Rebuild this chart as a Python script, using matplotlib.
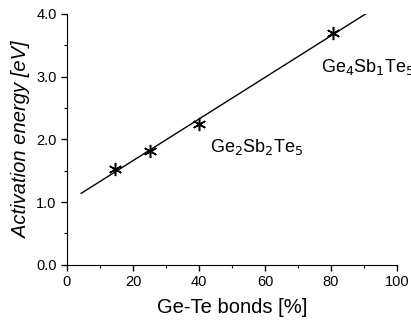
import matplotlib.pyplot as plt
import numpy as np
from matplotlib.ticker import MultipleLocator

plt.rcParams['font.family'] = ['Liberation Sans', 'DejaVu Sans']

# measured points
bonds = [14.5, 25.0, 40.0, 80.5]
energy = [1.52, 1.82, 2.24, 3.70]
# fitted line end points
line_x = [4.3, 90.5]
line_y = [1.14, 4.0]

fig = plt.figure(figsize=(4.11, 3.23), dpi=100)
ax = fig.add_axes([0.163, 0.180, 0.803, 0.777])

ax.plot(line_x, line_y, color='black', lw=1.0)
ax.plot(bonds, energy, linestyle='none', marker=(6, 2, 0), markersize=9.5,
        color='black', markeredgewidth=1.1)

ax.text(43.3, 1.88, r'Ge$_2$Sb$_2$Te$_5$', fontsize=13, va='center', ha='left')
ax.text(77.0, 3.16, r'Ge$_4$Sb$_1$Te$_5$', fontsize=13, va='center', ha='left',
        clip_on=False)

ax.set_xlim(0, 100)
ax.set_ylim(0, 4.0)
ax.xaxis.set_major_locator(MultipleLocator(20))
ax.xaxis.set_minor_locator(MultipleLocator(10))
ax.yaxis.set_major_locator(MultipleLocator(1.0))
ax.yaxis.set_minor_locator(MultipleLocator(0.5))
ax.yaxis.set_major_formatter(plt.FuncFormatter(lambda v, p: '%.1f' % v))

ax.spines['top'].set_visible(False)
ax.spines['right'].set_visible(False)
ax.tick_params(which='major', length=4, width=1, labelsize=10.5)
ax.tick_params(which='minor', length=2.5, width=0.8)

ax.set_xlabel('Ge-Te bonds [%]', fontsize=14.5, labelpad=6)
ax.set_ylabel('Activation energy [eV]', fontsize=14.5, style='italic', labelpad=4)

fig.savefig('out.png', dpi=100)
